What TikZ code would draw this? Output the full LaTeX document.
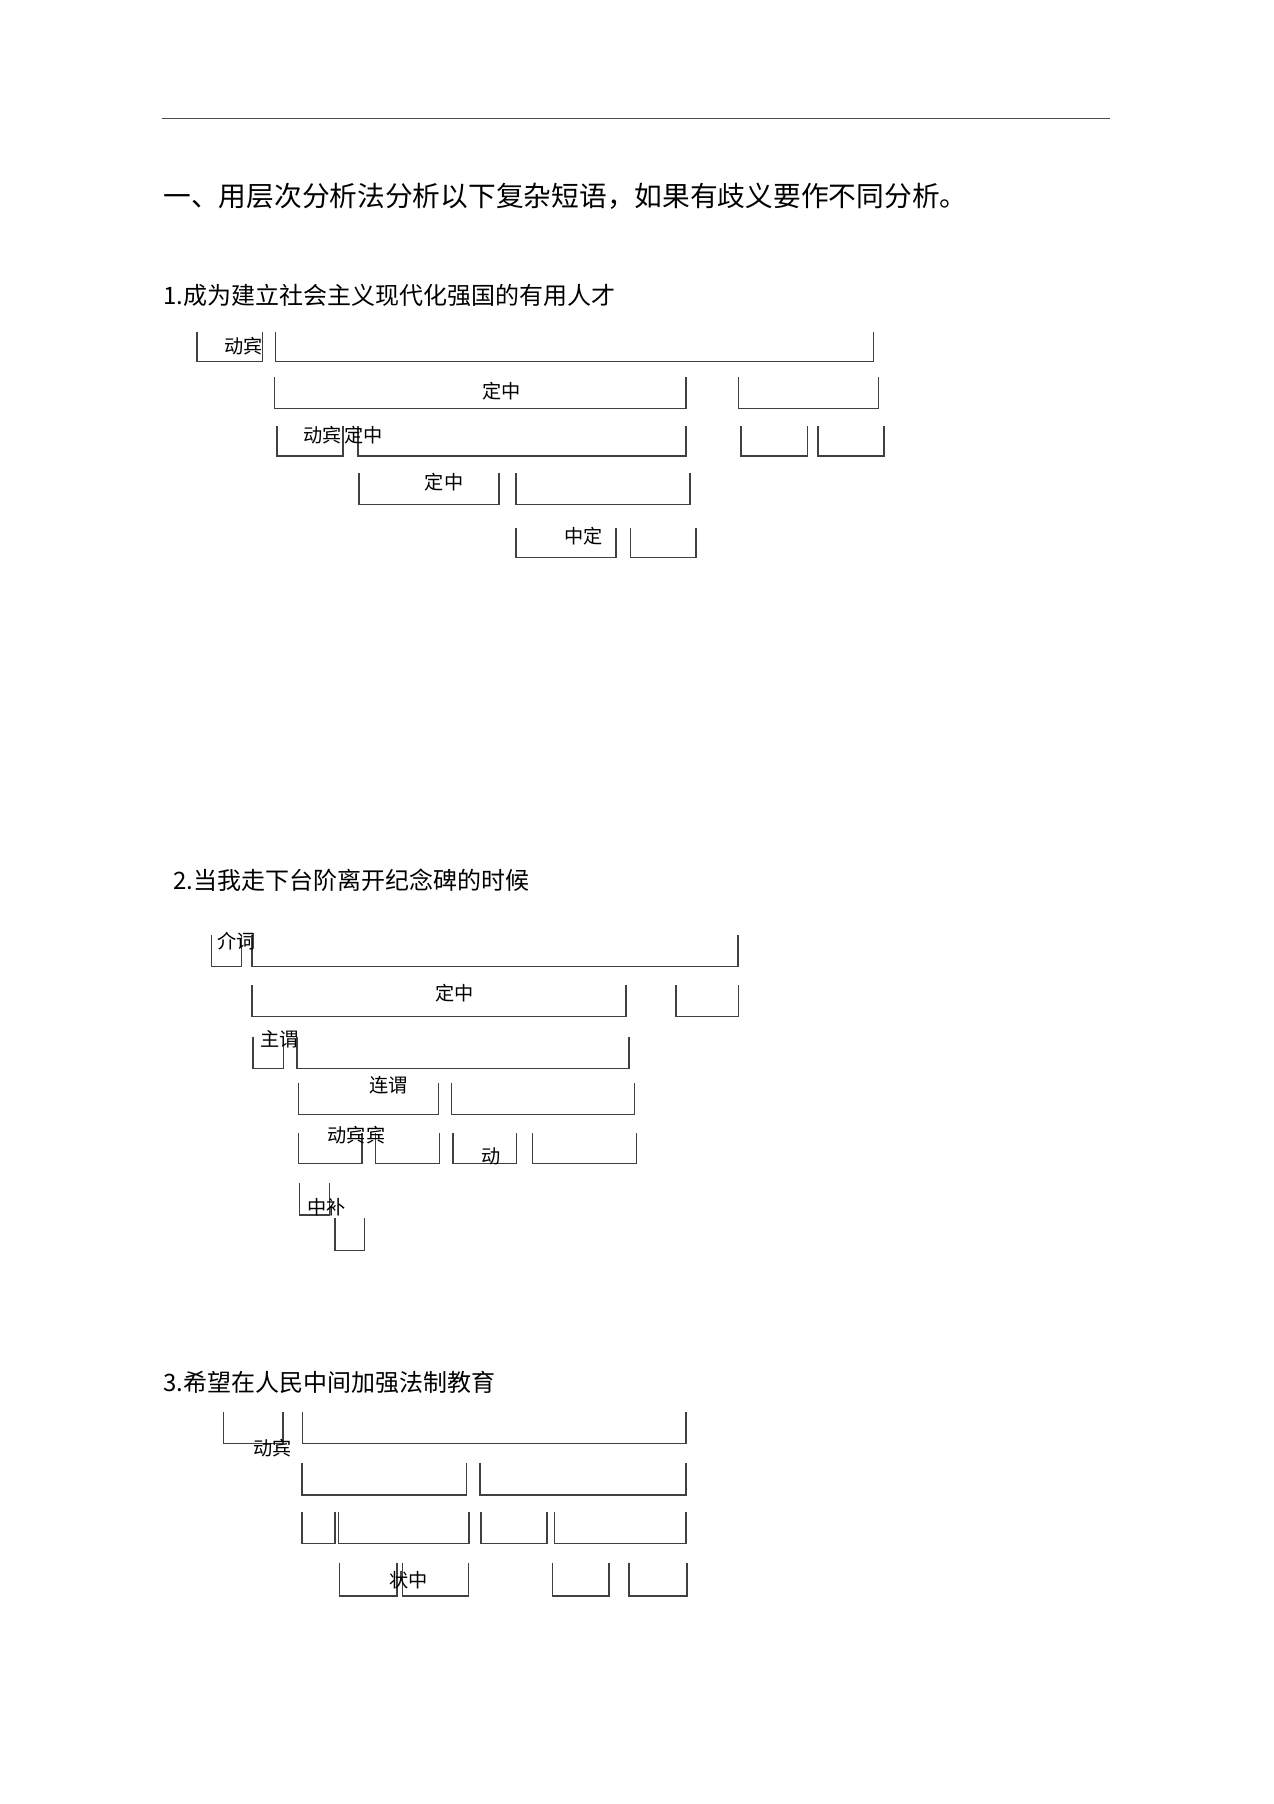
\documentclass[tikz,border=0pt]{standalone}
\usepackage{fontspec}
\setmainfont{Noto Sans CJK SC}
\newcommand\ubr[4]{\draw[brk] (#1,#3) -- (#1,#4) -- (#2,#4) -- (#2,#3);}
\begin{document}
\begin{tikzpicture}[x=0.016484cm,y=-0.016484cm,
  brk/.style={draw=black!75,line width=0.7pt,line join=miter},
  lab/.style={anchor=west,inner sep=0pt,font=\fontsize{9pt}{10pt}\selectfont},
  item/.style={anchor=west,inner sep=0pt,font=\fontsize{11.25pt}{13pt}\selectfont},
  ttl/.style={anchor=west,inner sep=0pt,font=\fontsize{13pt}{15pt}\selectfont}]
\useasboundingbox[fill=white] (0,0) rectangle (1274,1804);
\draw[black!70,line width=0.7pt] (161.5,118.3) -- (1110,118.3);
\node[ttl] (title) at (163,196.5) {一、用层次分析法分析以下复杂短语，如果有歧义要作不同分析。};
% ---------- 1 ----------
\node[item] (q1) at (163,295.5) {1.成为建立社会主义现代化强国的有用人才};
\ubr{197.2}{262.4}{331.7}{361.7}
\ubr{275.4}{873.7}{331.7}{361.7}
\ubr{274.5}{686}{376.7}{408.3}
\ubr{738.7}{878.3}{376.7}{408.3}
\ubr{276.8}{343}{426}{456}
\ubr{357.8}{686}{426}{456}
\ubr{741}{807.6}{426}{456}
\ubr{817.8}{883.9}{426}{456}
\ubr{359.2}{498.9}{473.3}{504.3}
\ubr{516.1}{689.8}{473.3}{504.3}
\ubr{516}{616.2}{528.3}{557.3}
\ubr{630.6}{695.8}{528.3}{557.3}
\node[lab] (a1) at (224,346.5) {动宾};
\node[lab] (a2) at (481.7,391.5) {定中};
\node[lab] (a3) at (303,434.8) {动宾};
\node[lab] (a4) at (343.9,434.8) {定中};
\node[lab] (a5) at (424.4,482.5) {定中};
\node[lab] (a6) at (564,536.5) {中定};
% ---------- 2 ----------
\node[item] (q2) at (173,880) {2.当我走下台阶离开纪念碑的时候};
\ubr{211.7}{241.5}{935}{966.7}
\ubr{251.8}{737.9}{935}{966.7}
\ubr{251.8}{626.1}{985}{1016.7}
\ubr{675.9}{738.6}{985}{1016.7}
\ubr{253}{283.6}{1036.7}{1068.3}
\ubr{297}{628.8}{1036.7}{1068.3}
\ubr{298.5}{438.6}{1082.7}{1114.3}
\ubr{451.6}{634.5}{1082.7}{1114.3}
\ubr{298.5}{362}{1133.3}{1163.3}
\ubr{375.5}{439.4}{1133.3}{1163.3}
\ubr{452.8}{516.7}{1133.3}{1163.3}
\ubr{532.4}{636.5}{1133.3}{1163.3}
\ubr{299.7}{329.5}{1183.3}{1215}
\ubr{334.9}{364.7}{1218.3}{1250.7}
\node[lab] (b1) at (217,941) {介词};
\node[lab] (b2) at (434.8,993) {定中};
\node[lab] (b3) at (260.3,1039) {主谓};
\node[lab] (b4) at (368.6,1085) {连谓};
\node[lab] (b5) at (327.2,1135) {动宾宾};
\node[lab] (b6) at (480.7,1156.5) {动};
\node[lab] (b7) at (306.6,1207) {中补};
% ---------- 3 ----------
\node[item] (q3) at (163,1382.5) {3.希望在人民中间加强法制教育};
\ubr{223.5}{282.8}{1411.7}{1443.3}
\ubr{302.3}{685.8}{1411.7}{1443.3}
\ubr{301.9}{466.5}{1462.7}{1495}
\ubr{479.9}{685.8}{1462.7}{1495}
\ubr{301.9}{334.8}{1511.7}{1543.3}
\ubr{338.7}{468.8}{1511.7}{1543.3}
\ubr{481}{546.9}{1511.7}{1543.3}
\ubr{554.5}{685.8}{1511.7}{1543.3}
\ubr{339.4}{396.8}{1562.7}{1596}
\ubr{402.6}{468.4}{1562.7}{1596}
\ubr{552.6}{609.2}{1562.7}{1596}
\ubr{629.1}{686.9}{1562.7}{1596}
\node[lab] (c1) at (253.3,1448) {动宾};
\node[lab] (c2) at (389.2,1580) {状中};
\end{tikzpicture}
\end{document}
